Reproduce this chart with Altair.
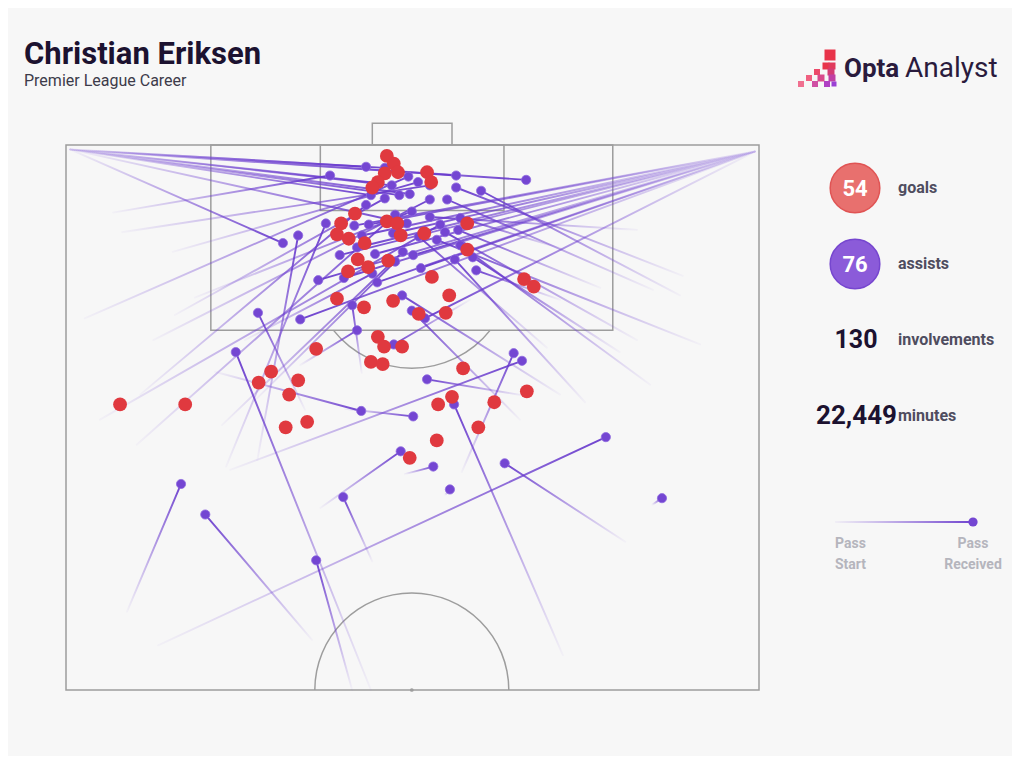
import altair as alt

# ---------------- data (Opta pitch coordinates: across 0-100, up-pitch 50-100) ----------------
goal_x = [46.3, 47.3, 47.9, 46.0, 45.0, 44.2, 52.1, 52.7, 41.7, 39.7, 39.1, 40.8, 43.1,
          46.3, 47.8, 48.3, 51.7, 57.9, 57.9, 42.1, 43.6, 46.5, 40.7, 52.8, 55.3,
          39.1, 43.0, 47.2, 54.8, 50.9, 66.1, 67.5, 45.0, 45.9, 48.5, 44.0, 45.7, 36.1,
          29.6, 27.8, 33.5, 32.2, 31.7, 34.8, 57.3, 66.5, 55.7, 53.7, 61.8, 59.5, 53.5, 49.6,
          7.8, 17.2]
goal_y = [99.0, 98.3, 97.5, 97.4, 96.6, 96.1, 97.5, 96.6, 93.7, 92.8, 91.8, 91.4, 91.0,
          93.0, 92.8, 91.7, 91.9, 92.8, 90.4, 89.5, 88.8, 89.4, 88.4, 87.9, 86.2,
          85.9, 85.1, 85.7, 84.6, 84.5, 87.7, 87.0, 82.4, 81.5, 81.5, 80.1, 79.9, 81.3,
          79.2, 78.2, 78.4, 77.1, 74.1, 74.6, 79.5, 77.4, 76.9, 76.2, 76.4, 74.1, 72.9, 71.3,
          76.2, 76.2]

# assists: where the pass was received (dot) and where it started (faded end)
assist_end_x = [43.3, 66.4, 56.3, 31.3, 45.2, 48.1, 44.0, 49.6, 46.0, 49.2, 47.0,
                38.1, 49.4, 50.8, 52.5, 49.9, 47.5,
                41.6, 42.7, 42.0, 39.5, 43.7, 47.2, 40.1, 44.6, 36.4, 33.8, 50.1, 44.9, 51.8, 51.2,
                56.3, 59.9, 55.0, 52.5, 54.7, 56.6, 50.9, 56.9, 56.1, 59.2, 58.7, 53.5, 56.9,
                41.3, 27.7, 33.5, 37.5, 24.5, 36.1,
                16.6, 20.1, 77.9, 40.0, 63.3, 48.3, 53.0, 56.0, 64.6, 65.8, 52.1, 42.6, 50.1, 86.0, 55.4,
                52.5, 46.0, 43.3, 54.0, 48.6, 48.5, 49.9, 47.3, 42.0, 44.2, 47.5]
assist_end_y = [98.0, 96.8, 97.2, 91.0, 96.5, 95.4, 95.4, 95.5, 97.9, 92.8, 96.3,
                97.2, 97.1, 96.6, 95.0, 93.9, 93.6,
                92.6, 91.7, 90.6, 89.9, 92.7, 91.9, 87.8, 90.0, 87.6, 84.0, 89.9, 87.4, 84.1, 88.7,
                96.1, 95.8, 95.0, 93.4, 92.0, 92.2, 91.6, 90.8, 89.5, 88.5, 89.7, 91.3, 93.3,
                85.3, 84.6, 91.7, 92.8, 81.0, 61.9,
                68.9, 66.1, 73.2, 67.7, 70.8, 71.9, 70.5, 76.2, 80.9, 80.2, 78.5, 75.6, 75.1, 67.6, 68.4,
                96.3, 95.1, 94.5, 92.7, 90.2, 86.2, 84.8, 81.7, 83.0, 88.2, 89.3]
assist_start_x = [0.6, 0.6, 0.6, 0.6, 0.6, 0.6, 0.6, 0.6, 0.6, 0.6, 0.6,
                  6.8, 2.7, 15.4, 12.6, 18.6, 10.2,
                  99.4, 99.4, 99.4, 99.4, 99.4, 99.4, 99.4, 99.4, 99.4, 99.4, 99.4, 99.4, 99.4, 99.4,
                  89.0, 88.6, 84.7, 82.4, 82.4, 77.1, 69.4, 84.3, 74.9, 71.3, 79.9, 91.5, 72.0,
                  42.7, 34.5, 27.6, 23.1, 44.0, 41.3,
                  8.8, 35.5, 13.3, 44.2, 80.7, 36.7, 48.9, 71.7, 57.1, 23.7, 66.2, 21.5, 40.3, 84.6, 54.7,
                  8.1, 15.7, 10.7, 4.9, 22.5, 71.3, 65.5, 58.3, 33.8, 25.8, 27.3]
assist_start_y = [99.6, 99.6, 99.6, 99.6, 99.6, 99.6, 99.6, 99.6, 99.6, 99.6, 99.6,
                  93.8, 84.1, 90.2, 82.1, 86.0, 72.5,
                  99.4, 99.4, 99.4, 99.4, 99.4, 99.4, 99.4, 99.4, 99.4, 99.4, 99.4, 99.4, 99.4, 99.4,
                  88.0, 86.2, 86.7, 92.2, 82.1, 86.9, 81.4, 78.0, 76.4, 85.8, 81.0, 81.7, 90.4,
                  79.1, 75.7, 71.1, 70.5, 50.0, 50.0,
                  57.2, 54.6, 54.1, 61.8, 63.6, 66.7, 69.8, 53.2, 70.0, 70.2, 77.0, 79.2, 75.8, 67.0, 67.9,
                  92.0, 84.4, 77.1, 74.8, 74.3, 77.1, 74.8, 85.8, 79.8, 82.1, 76.6]

# pitch markings
box_x0 = [0, 20.9, 36.7, 44.2]
box_x1 = [100, 78.9, 63.2, 55.7]
box_y0 = [50, 83.0, 94.0, 100]
box_y1 = [100, 100, 100, 102.0]
arc_cx = [49.9, 49.9]
arc_cy = [88.7, 50.0]

stat_values = ["54", "76", "130", "22,449"]
stat_labels = ["goals", "assists", "involvements", "minutes"]

# ---------------- styles ----------------
BG = "#f7f7f7"
LINE = "#9d9d9d"
RED = "#e0393f"
PURPLE = "#7446d2"
DARK = "#1c1230"
LABEL = "#4f4d5f"
MUTED = "#b5b5bd"
FONT = "Roboto"

XS = alt.Scale(domain=[0, 100], range=[58, 751], nice=False, zero=False)
YS = alt.Scale(domain=[50, 100], range=[682, 137], nice=False, zero=False)


def fade(sx, sy, ex, ey):
    gx = 0 if sx <= ex else 1
    gy = 0 if sy >= ey else 1
    return {
        "gradient": "linear", "x1": gx, "y1": gy, "x2": 1 - gx, "y2": 1 - gy,
        "stops": [
            {"offset": 0, "color": "rgba(125,85,215,0.04)"},
            {"offset": 0.5, "color": "rgba(112,66,208,0.5)"},
            {"offset": 1, "color": "rgba(104,58,205,0.95)"},
        ],
    }


assist_rows = [
    {"sx": sx, "sy": sy, "ex": ex, "ey": ey, "grad": fade(sx, sy, ex, ey)}
    for sx, sy, ex, ey in zip(assist_start_x, assist_start_y, assist_end_x, assist_end_y)
]
goal_rows = [{"gx": x, "gy": y} for x, y in zip(goal_x, goal_y)]
box_rows = [{"x0": a, "x1": b, "y0": c, "y1": d} for a, b, c, d in zip(box_x0, box_x1, box_y0, box_y1)]

ONE = alt.Data(values=[{}])


def label(text, x, y, size, color, weight="bold", align="left", baseline="middle"):
    return alt.Chart(ONE).mark_text(
        text=text, fontSize=size, fontWeight=weight, color=color,
        align=align, baseline=baseline, font=FONT,
    ).encode(x=alt.value(x), y=alt.value(y))


layers = []

# pitch
layers.append(
    alt.Chart(alt.Data(values=box_rows)).mark_rect(fillOpacity=0, stroke=LINE, strokeWidth=1.5).encode(
        x=alt.X("x0:Q", scale=XS, axis=None), x2="x1:Q",
        y=alt.Y("y0:Q", scale=YS, axis=None), y2="y1:Q",
    )
)
layers.append(
    alt.Chart(alt.Data(values=[{"cx": arc_cx[0], "cy": arc_cy[0]}])).mark_arc(
        radius=100.75, radius2=99.25, theta=2.239, theta2=4.044, color=LINE
    ).encode(x=alt.X("cx:Q", scale=XS, axis=None), y=alt.Y("cy:Q", scale=YS, axis=None))
)
layers.append(
    alt.Chart(alt.Data(values=[{"cx": arc_cx[1], "cy": arc_cy[1]}])).mark_arc(
        radius=97.75, radius2=96.25, theta=4.712, theta2=7.854, color=LINE
    ).encode(x=alt.X("cx:Q", scale=XS, axis=None), y=alt.Y("cy:Q", scale=YS, axis=None))
)
layers.append(
    alt.Chart(alt.Data(values=[{"cx": arc_cx[1], "cy": arc_cy[1]}])).mark_circle(
        size=14, color=LINE, opacity=1
    ).encode(x=alt.X("cx:Q", scale=XS, axis=None), y=alt.Y("cy:Q", scale=YS, axis=None))
)

# assists
assists = alt.Data(values=assist_rows)
layers.append(
    alt.Chart(assists).mark_rule(strokeWidth=1.9, strokeCap="round").encode(
        x=alt.X("sx:Q", scale=XS, axis=None), y=alt.Y("sy:Q", scale=YS, axis=None),
        x2="ex:Q", y2="ey:Q",
        stroke=alt.Stroke("grad:N", scale=None, legend=None),
    )
)
layers.append(
    alt.Chart(assists).mark_circle(size=85, color=PURPLE, opacity=1, stroke="#8f6be0", strokeWidth=0.8).encode(
        x=alt.X("ex:Q", scale=XS, axis=None), y=alt.Y("ey:Q", scale=YS, axis=None)
    )
)
# goals
layers.append(
    alt.Chart(alt.Data(values=goal_rows)).mark_circle(size=190, color=RED, opacity=1).encode(
        x=alt.X("gx:Q", scale=XS, axis=None), y=alt.Y("gy:Q", scale=YS, axis=None)
    )
)

# title
layers.append(label("Christian Eriksen", 16, 56, 31, DARK, "bold", baseline="alphabetic"))
layers.append(label("Premier League Career", 16, 78, 16, "#3d3b4a", "normal", baseline="alphabetic"))

# logo
logo_cells = [
    (830, 55, 11, "#e8344a"), (826, 66, 7, "#e8344a"), (832, 66, 7, "#e03a5c"),
    (817, 72, 6, "#ec4a6a"), (831, 72, 7, "#d43c74"), (809, 78, 6, "#f06080"),
    (821, 78, 7, "#d84a8c"), (832, 78, 7, "#c040a4"), (801, 84, 6, "#f07090"),
    (815, 84, 6, "#d050a4"), (827, 84, 6, "#b040c4"), (834, 84, 5, "#9a40d4"),
]
for cx, cy, s, c in logo_cells:
    layers.append(
        alt.Chart(ONE).mark_square(size=s * s, color=c, opacity=1, shape="square").encode(
            x=alt.value(cx - 8), y=alt.value(cy - 8)
        )
    )
layers.append(label("Opta", 836, 69, 26, "#2a1b3d", "bold", baseline="alphabetic"))
layers.append(label("Analyst", 897, 69, 28, "#2a1b3d", "normal", baseline="alphabetic"))

# stats panel
layers.append(alt.Chart(ONE).mark_point(size=2463, filled=True, fill="#e8706e", stroke="#e05454",
                                       strokeWidth=1.5, opacity=1).encode(x=alt.value(847), y=alt.value(180)))
layers.append(alt.Chart(ONE).mark_point(size=2463, filled=True, fill="#8b5bd9", stroke="#7646cf",
                                       strokeWidth=1.5, opacity=1).encode(x=alt.value(847), y=alt.value(256)))
layers.append(label(stat_values[0], 847, 181, 22, "white", "bold", align="center"))
layers.append(label(stat_values[1], 847, 257, 22, "white", "bold", align="center"))
layers.append(label(stat_labels[0], 890, 180, 16, LABEL))
layers.append(label(stat_labels[1], 890, 256, 16, LABEL))
layers.append(label(stat_values[2], 848, 332, 25, DARK, "bold", align="center"))
layers.append(label(stat_labels[2], 890, 332, 16, LABEL))
layers.append(label(stat_values[3], 889, 408, 26, DARK, "bold", align="right"))
layers.append(label(stat_labels[3], 890, 408, 16, LABEL))

# pass legend
legend_grad = alt.LinearGradient(
    gradient="linear", x1=0, x2=1, y1=0, y2=0,
    stops=[alt.GradientStop(color="rgba(125,85,215,0.05)", offset=0),
           alt.GradientStop(color="rgba(112,66,208,0.5)", offset=0.5),
           alt.GradientStop(color="rgba(104,58,205,0.95)", offset=1)],
)
layers.append(alt.Chart(ONE).mark_rect(fill=legend_grad).encode(
    x=alt.value(827), x2=alt.value(965), y=alt.value(513), y2=alt.value(515)))
layers.append(alt.Chart(ONE).mark_circle(size=85, color=PURPLE, opacity=1).encode(
    x=alt.value(965), y=alt.value(514)))
layers.append(label("Pass", 827, 536, 14, MUTED))
layers.append(label("Start", 827, 557, 14, MUTED))
layers.append(label("Pass", 965, 536, 14, MUTED, align="center"))
layers.append(label("Received", 965, 557, 14, MUTED, align="center"))

chart = alt.layer(*layers).properties(
    width=1004, height=748, background=BG, padding=0,
    autosize=alt.AutoSizeParams(type="none"),
).configure_view(strokeWidth=0)

chart.save("out.html", embed_options={"renderer": "svg", "actions": False})
